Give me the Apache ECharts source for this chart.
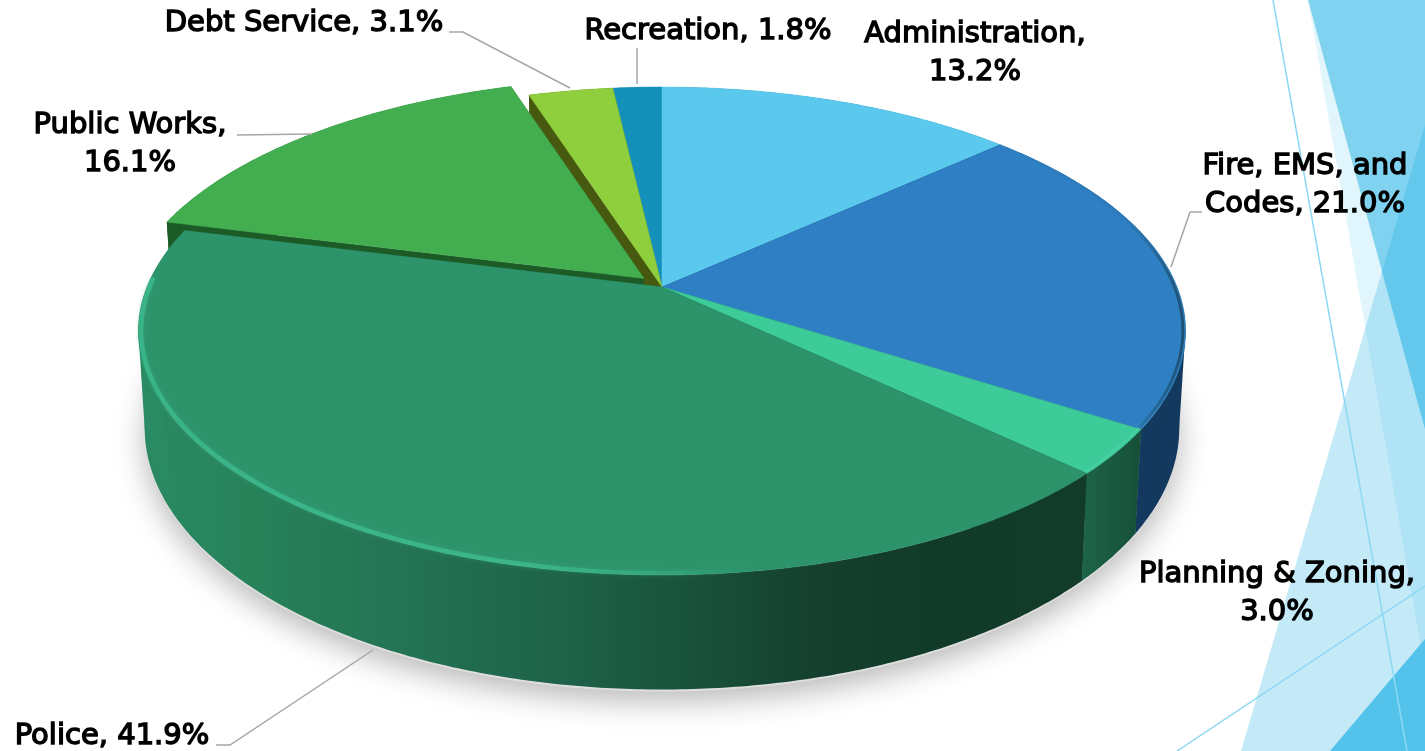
<!DOCTYPE html>
<html>
<head>
<meta charset="utf-8">
<style>html,body{margin:0;padding:0;background:#fff}#chart{width:1425px;height:751px}</style>
<script src="https://cdn.jsdelivr.net/npm/echarts@6/dist/echarts.min.js"></script>
</head>
<body>
<div id="chart"></div>
<script>
// Budget shares, clockwise from twelve o'clock
const categories = ['Administration', 'Fire, EMS, and Codes', 'Planning & Zoning', 'Police', 'Public Works', 'Debt Service', 'Recreation'];
const shares = [13.2, 21.0, 3.0, 41.9, 16.1, 3.1, 1.8];
const labelTexts = ['Administration,\n13.2%', 'Fire, EMS, and\nCodes, 21.0%', 'Planning & Zoning,\n3.0%', 'Police, 41.9%', 'Public Works,\n16.1%', 'Debt Service, 3.1%', 'Recreation, 1.8%'];

// Slice styling
const topColors = ['#5bc8ed', '#2e7fc3', '#3dcb9a', '#2d936b', '#43ae50', '#8fce3c', '#1590bb'];
const wallColors = ['#2a6f8c', '#133a5e', '#1a5c42', '#1c5c43', '#1c5a26', '#46590f', '#0d5a76'];
const drawOrder = [1, 3, 5, 6, 4, 2, 0];
const sliceShift = [[0, 0], [0, 0], [0, 0], [0, 0], [-18, -8.5], [0, 0], [0, 0]];

// Label anchors and leader lines
const labelAnchors = [[975, 53], [1305, 185], [1277, 593], [112, 736], [130, 144], [304, 23], [708, 31]];
const leaders = [null, [[1202, 212], [1190, 212], [1171, 267]], null, [[216, 745], [230, 745], [373, 650]], [[237, 135], [312, 134]], [[449, 32], [463, 32], [570, 88]], [[637, 48], [637, 84]]];

// Perspective of the tilted disc
const view = { cx: 662, cy: 287, rx: 515, ry: 236, dist: 5.55, depth: 94, baseScale: 0.988 };
const total = shares.reduce((a, b) => a + b, 0);

function project(angle, radius, lower, shift) {
  const X = radius * Math.sin(angle);
  const Y = -radius * Math.cos(angle);
  const s = view.dist / (view.dist - Y);
  const k = lower ? view.baseScale : 1;
  return [
    view.cx + view.rx * X * s * k + (shift ? shift[0] : 0),
    view.cy + (view.ry * Y + (lower ? view.depth : 0)) * s + (shift ? shift[1] : 0)
  ];
}
function arc(a0, a1, lower, shift, radius) {
  const n = Math.max(4, Math.ceil(Math.abs(a1 - a0) / 0.01));
  const pts = [];
  for (let i = 0; i <= n; i++) pts.push(project(a0 + (a1 - a0) * i / n, radius === undefined ? 1 : radius, lower, shift));
  return pts;
}
function sliceAngles(i) {
  let before = 0;
  for (let j = 0; j < i; j++) before += shares[j];
  return [before / total * 2 * Math.PI, (before + shares[i]) / total * 2 * Math.PI];
}
function hGrad(stops) {
  return { type: 'linear', x: 0, y: 0, x2: 1, y2: 0, colorStops: stops };
}
const wallFill = [
  null, null,
  hGrad([{ offset: 0, color: '#1d6449' }, { offset: 1, color: '#174f39' }]),
  hGrad([
    { offset: 0, color: '#2a8a63' }, { offset: 0.12, color: '#278259' }, { offset: 0.28, color: '#237354' },
    { offset: 0.45, color: '#1e6249' }, { offset: 0.58, color: '#19523b' }, { offset: 0.72, color: '#153f2e' },
    { offset: 0.84, color: '#113a28' }, { offset: 1, color: '#123b29' }
  ]),
  null, null, null
];
// Soft highlights along the front edge of the lit slices
const rimStroke = [
  null,
  hGrad([{ offset: 0, color: 'rgba(25,60,100,0)' }, { offset: 0.7, color: 'rgba(25,60,100,0.1)' }, { offset: 1, color: 'rgba(20,50,90,0.7)' }]),
  'rgba(74,214,166,0.6)',
  hGrad([
    { offset: 0, color: 'rgba(58,182,138,0.9)' }, { offset: 0.4, color: 'rgba(62,186,142,0.85)' }, { offset: 0.56, color: 'rgba(58,180,134,0.45)' },
    { offset: 0.66, color: 'rgba(45,147,107,0)' }, { offset: 1, color: 'rgba(45,147,107,0)' }
  ]),
  null, null, null
];
// Slices on the disc's left and right extremes need the vertical tangent filled in
const sideEdge = { 1: { color: '#133a5e', sign: 1, step: 30 }, 3: { color: '#2a8a63', sign: -1, step: -30 } };

function extremeIndex(points, sign) {
  let best = 0;
  points.forEach((p, k) => { if (p[0] * sign > points[best][0] * sign) best = k; });
  return best;
}

function renderSlice(params, api) {
  const i = params.dataIndex;
  const [a0, a1] = sliceAngles(i);
  const shift = sliceShift[i];
  const z = drawOrder[i] * 10;
  const center = [view.cx + shift[0], view.cy + shift[1]];
  const centerLow = project(0, 0, true, shift);
  const topArc = arc(a0, a1, false, shift);
  const lowArc = arc(a0, a1, true, shift);
  const first = topArc[0], last = topArc[topArc.length - 1];
  const children = [
    { type: 'polygon', z2: z, shape: { points: [center, first, lowArc[0], centerLow] }, style: { fill: wallColors[i] } },
    { type: 'polygon', z2: z, shape: { points: [center, last, lowArc[lowArc.length - 1], centerLow] }, style: { fill: wallColors[i] } },
    { type: 'polygon', z2: z + 1, shape: { points: topArc.concat(lowArc.slice().reverse()) }, style: { fill: wallFill[i] || wallColors[i] } },
    { type: 'polygon', z2: z + 2, shape: { points: [center].concat(topArc) }, style: { fill: topColors[i], stroke: topColors[i], lineWidth: 0.5 } }
  ];
  const side = sideEdge[i];
  if (side) {
    const it = extremeIndex(topArc, side.sign);
    const il = extremeIndex(lowArc, side.sign);
    children.push({
      type: 'polygon', z2: z + 1,
      shape: { points: [topArc[it], lowArc[il], lowArc[il + side.step], topArc[it + side.step]] },
      style: { fill: side.color }
    });
  }
  if (rimStroke[i]) {
    // the police highlight stops short of the rear corner of the slice
    const to = i === 3 ? a1 - 0.22 : a1;
    children.push({
      type: 'polyline', z2: z + 3, shape: { points: arc(a0, to, false, shift, 0.995) },
      style: { stroke: rimStroke[i], lineWidth: i === 3 ? 4.5 : 3, lineCap: 'round', fill: null, shadowBlur: i === 3 ? 4 : 2, shadowColor: 'rgba(60,185,140,0.4)' }
    });
  }
  return { type: 'group', children };
}

function renderGroundShadow() {
  return {
    type: 'polygon',
    shape: { points: arc(0, 2 * Math.PI, true, [0, 2]) },
    style: { fill: '#dedede', shadowBlur: 30, shadowColor: 'rgba(0,0,0,0.28)', shadowOffsetY: 10 }
  };
}

function renderLabel(params) {
  const i = params.dataIndex;
  const children = [{
    type: 'text', z2: 200,
    style: {
      text: labelTexts[i], x: labelAnchors[i][0], y: labelAnchors[i][1], align: 'center', verticalAlign: 'middle',
      font: '29px "DejaVu Sans"', lineHeight: 38, fill: '#000', stroke: '#000', lineWidth: 1.4
    }
  }];
  if (leaders[i]) {
    children.push({ type: 'polyline', z2: 150, shape: { points: leaders[i] }, style: { stroke: '#a6a6a6', lineWidth: 1.5, fill: null } });
  }
  return { type: 'group', children };
}

const sliceData = shares.map((v, i) => ({ name: categories[i], value: v }));

// Slide backdrop on the right edge
const backdrop = [
  { type: 'polygon', z: 0, shape: { points: [[1308, 0], [1425, 0], [1425, 429]] }, style: { fill: 'rgba(91,197,236,0.78)' } },
  { type: 'polygon', z: 0, shape: { points: [[1425, 125], [1241, 751], [1425, 751]] }, style: { fill: 'rgba(91,197,236,0.36)' } },
  { type: 'polygon', z: 0, shape: { points: [[1425, 125], [1382, 272], [1425, 429]] }, style: { fill: 'rgba(85,195,236,0.5)' } },
  { type: 'polygon', z: 0, shape: { points: [[1308, 0], [1425, 429], [1425, 670]] }, style: { fill: 'rgba(91,197,236,0.18)' } },
  { type: 'polygon', z: 0, shape: { points: [[1330, 751], [1425, 639], [1425, 751]] }, style: { fill: '#54c3ec' } },
  { type: 'line', z: 0, shape: { x1: 1273, y1: 0, x2: 1407, y2: 751 }, style: { stroke: '#8dd8f3', lineWidth: 1.5 } },
  { type: 'line', z: 0, shape: { x1: 1177, y1: 751, x2: 1425, y2: 586 }, style: { stroke: '#8dd8f3', lineWidth: 1.5 } }
];

const chart = echarts.init(document.getElementById('chart'), null, { renderer: 'canvas' });
chart.setOption({
  animation: false,
  backgroundColor: '#fff',
  graphic: { elements: backdrop },
  series: [
    { type: 'custom', coordinateSystem: 'none', silent: true, z: 1, renderItem: renderGroundShadow, data: [0] },
    { type: 'custom', coordinateSystem: 'none', silent: true, z: 2, renderItem: renderSlice, data: sliceData },
    { type: 'custom', coordinateSystem: 'none', silent: true, z: 3, renderItem: renderLabel, data: sliceData }
  ]
});
</script>
</body>
</html>
